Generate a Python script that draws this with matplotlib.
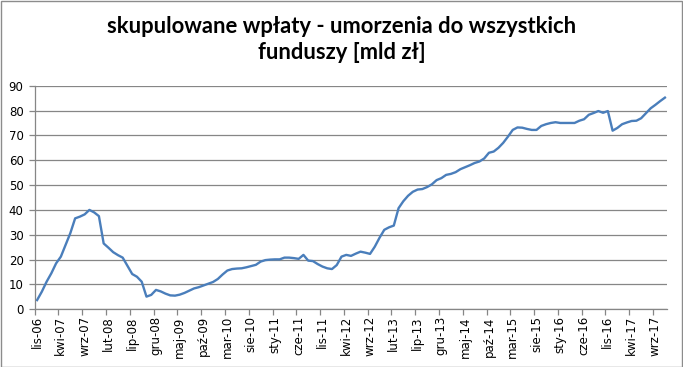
import matplotlib
matplotlib.use("Agg")
import matplotlib.pyplot as plt
from matplotlib.patches import Rectangle

# monthly values, lis-06 .. lis-17 [mld zl]
values = [
    3.7, 7.1, 11.1, 14.5, 18.5, 21.2, 25.9, 30.7, 36.6, 37.3,
    38.2, 40.0, 39.0, 37.5, 26.5, 24.8, 23.0, 21.8, 20.8, 17.5,
    14.2, 13.1, 11.1, 5.1, 5.8, 7.8, 7.2, 6.3, 5.6, 5.5,
    5.9, 6.6, 7.5, 8.4, 8.9, 9.6, 10.3, 11.0, 12.2, 14.0,
    15.6, 16.2, 16.4, 16.5, 16.9, 17.4, 17.9, 19.2, 19.8, 20.0,
    20.1, 20.1, 20.8, 20.8, 20.6, 20.3, 21.9, 19.6, 19.4, 18.2,
    17.2, 16.5, 16.2, 17.8, 21.2, 21.9, 21.5, 22.4, 23.2, 22.8,
    22.3, 25.2, 28.8, 32.0, 33.0, 33.7, 40.7, 43.5, 45.7, 47.3,
    48.2, 48.4, 49.2, 50.3, 52.0, 52.8, 54.1, 54.5, 55.2, 56.4,
    57.2, 58.0, 58.9, 59.5, 60.7, 63.0, 63.5, 65.0, 67.0, 69.5,
    72.2, 73.2, 73.1, 72.6, 72.2, 72.2, 73.8, 74.5, 75.0, 75.3,
    75.0, 75.0, 75.0, 75.0, 75.9, 76.5, 78.3, 79.0, 79.8, 79.1,
    79.8, 71.9, 73.0, 74.5, 75.2, 75.8, 75.9, 76.9, 78.9, 80.9,
    82.3, 83.8, 85.2,
]

tick_labels = [
    "lis-06", "kwi-07", "wrz-07", "lut-08", "lip-08", "gru-08", "maj-09",
    "paź-09", "mar-10", "sie-10", "sty-11", "cze-11", "lis-11", "kwi-12",
    "wrz-12", "lut-13", "lip-13", "gru-13", "maj-14", "paź-14", "mar-15",
    "sie-15", "sty-16", "cze-16", "lis-16", "kwi-17", "wrz-17",
]
label_step = 5

title = "skupulowane wpłaty - umorzenia do wszystkich\nfunduszy [mld zł]"

grid_color = "#868686"
line_color = "#4a7ebb"

fig = plt.figure(figsize=(6.83, 3.67), dpi=100)
ax = fig.add_axes([34.7 / 683, 57.7 / 367, (667.3 - 34.7) / 683, (309.3 - 85.7) / 367])

x = list(range(len(values)))
ax.plot(x, values, color=line_color, lw=1.7, solid_joinstyle="round")

ax.set_xlim(-0.5, len(values) - 0.5)
ax.set_ylim(0, 90)
ax.set_yticks(range(0, 91, 10))
ax.yaxis.grid(True, color=grid_color, lw=0.9)
ax.set_axisbelow(True)

# labels centred on categories, tick marks between categories
label_pos = [i * label_step for i in range(len(tick_labels))]
ax.set_xticks(label_pos)
ax.set_xticklabels(tick_labels, rotation=90, fontsize=8.5)
ax.tick_params(axis="x", length=0, pad=5)
ax.set_xticks([p - 0.5 for p in label_pos], minor=True)
ax.tick_params(axis="x", which="minor", length=4, color=grid_color, width=0.9)
ax.tick_params(axis="y", length=4, color=grid_color, width=0.9, labelsize=8.5, pad=4)

for s in ["top", "right"]:
    ax.spines[s].set_visible(False)
for s in ["left", "bottom"]:
    ax.spines[s].set_color(grid_color)
    ax.spines[s].set_linewidth(0.9)

fig.text(0.5, 0.893, title, ha="center", va="center", fontsize=15.8,
         fontweight="bold", family=["Lato", "DejaVu Sans"], linespacing=1.3)

fig.patches.append(Rectangle((0.5 / 683, 0.5 / 367), 681.5 / 683, 365.5 / 367,
                             transform=fig.transFigure, fill=False,
                             edgecolor="#8c8c8c", lw=1))

fig.savefig("out.png", dpi=100)
